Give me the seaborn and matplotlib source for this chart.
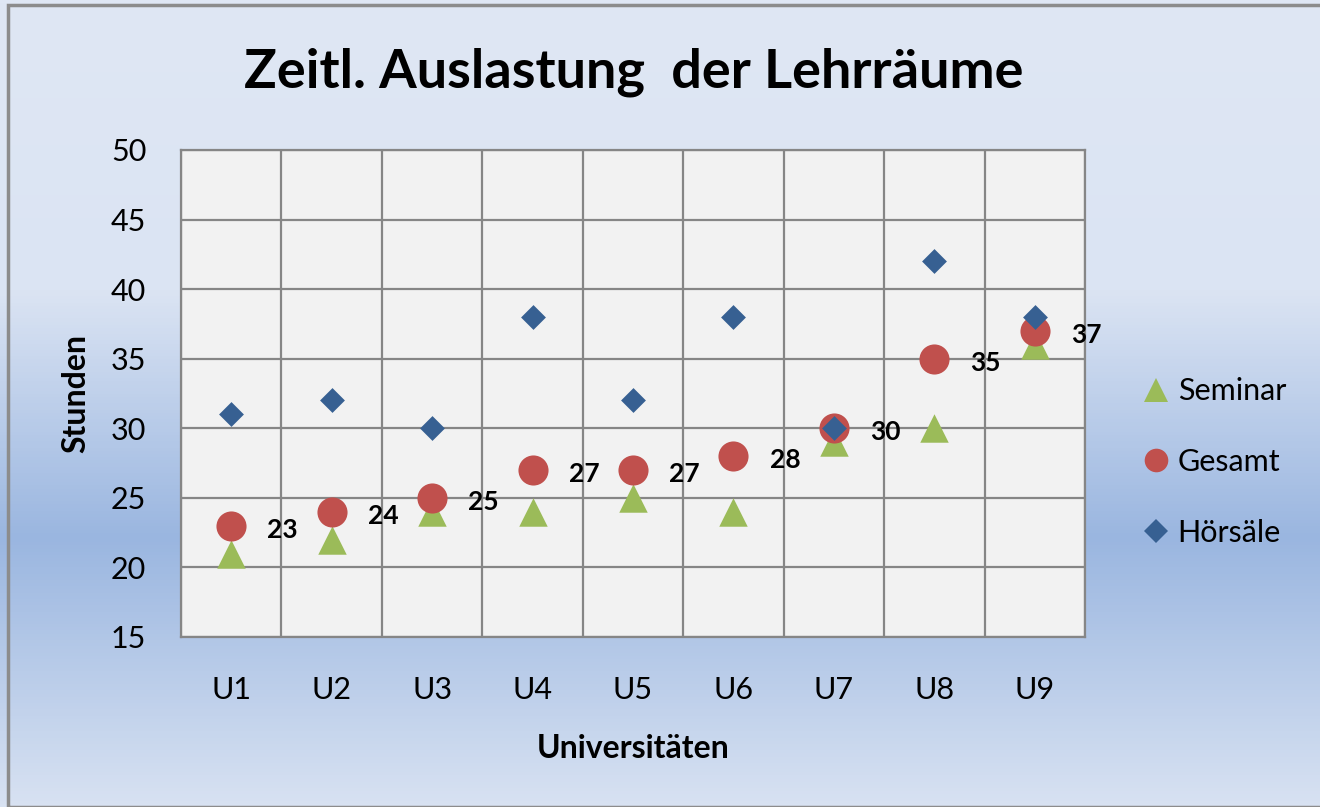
#!/usr/bin/env python3
import numpy as np
import pandas as pd
import matplotlib
matplotlib.use("Agg")
import matplotlib.pyplot as plt
from matplotlib.colors import LinearSegmentedColormap
from matplotlib.lines import Line2D
from matplotlib.patches import Rectangle
import seaborn as sns

universities = ["U1", "U2", "U3", "U4", "U5", "U6", "U7", "U8", "U9"]
seminar = [21, 22, 24, 24, 25, 24, 29, 30, 36]
gesamt = [23, 24, 25, 27, 27, 28, 30, 35, 37]
hoersaele = [31, 32, 30, 38, 32, 38, 30, 42, 38]
series_names = ["Seminar", "Gesamt", "Hörsäle"]
y_ticks = [15, 20, 25, 30, 35, 40, 45, 50]


def plot_auslastung():
    sns.set_style("white")
    plt.rcParams["font.family"] = ["Lato", "DejaVu Sans"]
    plt.rcParams["text.color"] = "black"
    plt.rcParams["xtick.color"] = "black"
    plt.rcParams["ytick.color"] = "black"
    plt.rcParams["axes.labelcolor"] = "black"

    pos = np.arange(1, len(universities) + 1)
    df = pd.DataFrame({
        "pos": np.tile(pos, 3),
        "Stunden": seminar + gesamt + hoersaele,
        "Serie": np.repeat(series_names, len(universities)),
    })

    fig = plt.figure(figsize=(13.2, 8.07), dpi=100)

    # gradient background like the Excel chart area
    bg = fig.add_axes([0, 0, 1, 1], zorder=-10)
    cmap = LinearSegmentedColormap.from_list("bg", [
        (0.0, "#dfe7f4"), (0.36, "#dbe4f3"), (0.667, "#9ab6e0"), (1.0, "#d8e2f2")])
    bg.imshow(np.linspace(0, 1, 256).reshape(-1, 1), aspect="auto", cmap=cmap,
              extent=[0, 1, 0, 1], origin="upper")
    bg.add_patch(Rectangle((8 / 1320, 0), 1.2, 1 - 5 / 807, fill=False,
                           edgecolor="#8c8c8c", linewidth=2.5))
    bg.set_xlim(0, 1)
    bg.set_ylim(0, 1)
    bg.axis("off")

    ax = fig.add_axes([181 / 1320, 170 / 807, 904 / 1320, 487 / 807])
    ax.set_facecolor("#f2f2f2")

    colors = {"Seminar": "#9bbb59", "Gesamt": "#c0504d", "Hörsäle": "#376092"}
    markers = {"Seminar": "^", "Gesamt": "o", "Hörsäle": "D"}
    sizes = {"Seminar": 420, "Gesamt": 470, "Hörsäle": 160}

    for name in series_names:
        sub = df[df["Serie"] == name]
        sns.scatterplot(data=sub, x="pos", y="Stunden", ax=ax, color=colors[name],
                        marker=markers[name], s=sizes[name], linewidth=0,
                        legend=False, zorder=3)

    for x, v in zip(pos, gesamt):
        ax.annotate(str(v), (x, v), xytext=(37, -3), textcoords="offset points",
                    ha="center", va="center", fontsize=19, fontweight="bold",
                    zorder=4)

    ax.set_xlim(0.5, len(universities) + 0.5)
    ax.set_ylim(15, 50)
    ax.set_xticks(pos)
    ax.set_xticklabels(universities)
    ax.set_xticks(np.arange(0.5, len(universities) + 1), minor=True)
    ax.set_yticks(y_ticks)
    ax.grid(False)
    ax.grid(which="minor", axis="x", color="#868686", linewidth=1.6)
    ax.grid(which="major", axis="y", color="#868686", linewidth=1.6)
    ax.set_axisbelow(True)
    ax.tick_params(axis="both", which="both", length=0, labelsize=22)
    ax.tick_params(axis="y", pad=25)
    ax.tick_params(axis="x", pad=28)
    for sp in ax.spines.values():
        sp.set_color("#868686")
        sp.set_linewidth(1.6)

    ax.set_xlabel("Universitäten", fontsize=23, fontweight="bold", labelpad=22)
    ax.set_ylabel("Stunden", fontsize=23, fontweight="bold", labelpad=15)

    fig.text(634 / 1320, 1 - 72 / 807, "Zeitl. Auslastung  der Lehrräume",
             ha="center", va="center", fontsize=39, fontweight="bold")

    handles = [Line2D([], [], linestyle="none", marker=markers[n],
                      markerfacecolor=colors[n], markeredgewidth=0,
                      markersize={"Seminar": 17, "Gesamt": 17, "Hörsäle": 12}[n])
               for n in series_names]
    fig.legend(handles, series_names, loc="center left",
               bbox_to_anchor=(1112 / 1320, 1 - 462 / 807), frameon=False,
               fontsize=22, labelspacing=1.4, handletextpad=0.15,
               handlelength=1.1)

    fig.savefig("out.png", dpi=100)
    print("Saved out.png", flush=True)


if __name__ == "__main__":
    plot_auslastung()
